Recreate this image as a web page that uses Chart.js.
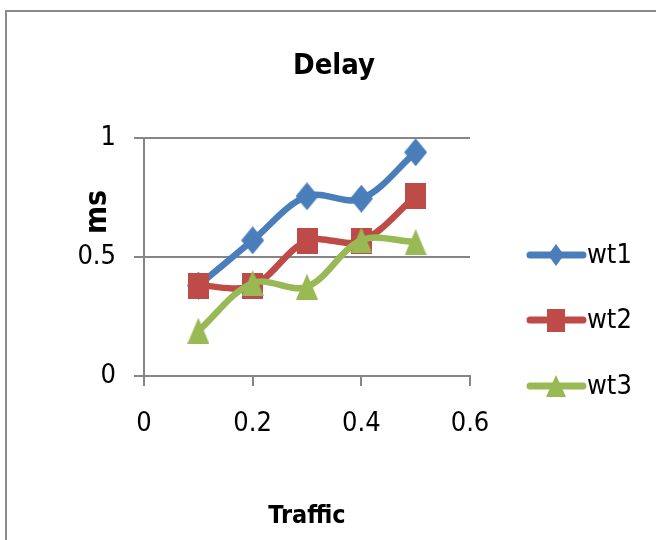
<!DOCTYPE html>
<html>
<head>
<meta charset="utf-8">
<title>Delay</title>
<script src="https://cdn.jsdelivr.net/npm/chart.js@4/dist/chart.umd.min.js"></script>
<style>
  html, body { margin: 0; padding: 0; background: #ffffff; }
  #wrap { width: 656px; height: 540px; position: relative; }
</style>
</head>
<body>
<div id="wrap"><canvas id="chart" width="656" height="540"></canvas></div>
<script>
// Traffic load on the x axis, delay (ms) on the y axis
const traffic = [0.1, 0.2, 0.3, 0.4, 0.5];
const wt1 = [0.38, 0.57, 0.755, 0.745, 0.94];
const wt2 = [0.38, 0.38, 0.567, 0.567, 0.755];
const wt3 = [0.19, 0.39, 0.375, 0.57, 0.563];
const seriesNames = ['wt1', 'wt2', 'wt3'];
const xTickLabels = ['0', '0.2', '0.4', '0.6'];
const yTickLabels = ['0', '0.5', '1'];

const FONT = "'DejaVu Sans Condensed', 'DejaVu Sans', sans-serif";
const GRID = '#868686';
const COLORS = ['#4A7EBB', '#BE4B48', '#98B954'];
const SHAPES = ['diamond', 'square', 'triangle'];

// Markers are slightly taller than wide, so they are drawn into small canvases
function makeMarker(shape, w, h, color) {
  const c = document.createElement('canvas');
  c.width = w;
  c.height = h;
  const g = c.getContext('2d');
  g.fillStyle = color;
  g.beginPath();
  if (shape === 'diamond') {
    g.moveTo(w / 2, 0);
    g.lineTo(w, h / 2);
    g.lineTo(w / 2, h);
    g.lineTo(0, h / 2);
  } else if (shape === 'square') {
    g.rect(0, 0, w, h);
  } else {
    g.moveTo(w / 2, 0);
    g.lineTo(w, h);
    g.lineTo(0, h);
  }
  g.closePath();
  g.fill();
  return c;
}

const plotMarkerSize = [[23, 28], [21, 26], [22, 26]];
const legendMarkerSize = [[16, 22], [18, 23], [20, 22]];

const plotMarkers = SHAPES.map((s, i) => makeMarker(s, plotMarkerSize[i][0], plotMarkerSize[i][1], COLORS[i]));
const legendMarkers = SHAPES.map((s, i) => makeMarker(s, legendMarkerSize[i][0], legendMarkerSize[i][1], COLORS[i]));

function toPoints(ys) {
  return traffic.map((x, i) => ({ x: x, y: ys[i] }));
}

// later series are painted over earlier ones
const datasets = [wt1, wt2, wt3].map((ys, i) => ({
  label: seriesNames[i],
  data: toPoints(ys),
  order: 3 - i,
  borderColor: COLORS[i],
  backgroundColor: COLORS[i],
  borderWidth: 6.5,
  tension: 0.35,
  pointStyle: plotMarkers[i],
  pointRadius: 12,
  pointHoverRadius: 12,
  borderCapStyle: 'round',
  borderJoinStyle: 'round'
}));

// Frame, chart title, rotated y title and the line+marker legend
const decorations = {
  id: 'decorations',
  beforeDraw(chart) {
    const ctx = chart.ctx;
    ctx.save();
    ctx.fillStyle = '#ffffff';
    ctx.fillRect(0, 0, chart.width, chart.height);
    ctx.strokeStyle = '#8a8a8a';
    ctx.lineWidth = 2;
    ctx.strokeRect(6, 11, chart.width + 20, chart.height + 20);
    ctx.restore();
  },
  afterDraw(chart) {
    const ctx = chart.ctx;
    ctx.save();
    ctx.fillStyle = '#000000';
    ctx.textAlign = 'center';
    ctx.textBaseline = 'middle';
    ctx.font = "bold 29px " + FONT;
    ctx.fillText('Delay', 334, 66);

    ctx.save();
    ctx.translate(98, 212);
    ctx.rotate(-Math.PI / 2);
    ctx.font = "bold 30px " + FONT;
    ctx.fillText('ms', 0, 0);
    ctx.restore();

    const rows = [255, 320, 386];
    chart.data.datasets.forEach((ds, i) => {
      const y = rows[i];
      ctx.strokeStyle = ds.borderColor;
      ctx.lineWidth = 7;
      ctx.lineCap = 'round';
      ctx.beginPath();
      ctx.moveTo(530, y);
      ctx.lineTo(583, y);
      ctx.stroke();
      const m = legendMarkers[i];
      ctx.drawImage(m, 556 - m.width / 2, y - m.height / 2);
      ctx.fillStyle = '#000000';
      ctx.textAlign = 'left';
      ctx.font = "27px " + FONT;
      ctx.fillText(ds.label, 587, y + 1);
    });
    ctx.restore();
  }
};

new Chart(document.getElementById('chart'), {
  type: 'line',
  data: { datasets: datasets },
  plugins: [decorations],
  options: {
    responsive: false,
    animation: false,
    events: [],
    layout: { padding: { left: 0, right: 186, top: 138, bottom: 0 } },
    plugins: {
      legend: { display: false },
      title: { display: false },
      tooltip: { enabled: false }
    },
    scales: {
      x: {
        type: 'linear',
        min: 0,
        max: 0.6,
        afterFit(s) { s.height = 164; },
        afterBuildTicks(s) { s.ticks = xTickLabels.map(t => ({ value: parseFloat(t) })); },
        ticks: {
          callback: (v, i) => xTickLabels[i],
          color: '#000000',
          font: { family: FONT, size: 27 },
          padding: 22,
          maxRotation: 0
        },
        grid: { drawOnChartArea: false, drawTicks: true, tickLength: 10, color: GRID, lineWidth: 2 },
        border: { display: true, color: GRID, width: 2 },
        title: {
          display: true,
          text: 'Traffic',
          color: '#000000',
          font: { family: FONT, size: 25, weight: 'bold' },
          padding: { top: 0, bottom: 9 }
        }
      },
      y: {
        min: 0,
        max: 1,
        afterFit(s) { s.width = 144; },
        afterBuildTicks(s) { s.ticks = yTickLabels.map(t => ({ value: parseFloat(t) })); },
        ticks: {
          callback: (v, i) => yTickLabels[i],
          color: '#000000',
          font: { family: FONT, size: 27 },
          padding: 18
        },
        grid: { drawTicks: true, tickLength: 10, color: GRID, lineWidth: 2 },
        border: { display: true, color: GRID, width: 2 }
      }
    }
  }
});
</script>
</body>
</html>
